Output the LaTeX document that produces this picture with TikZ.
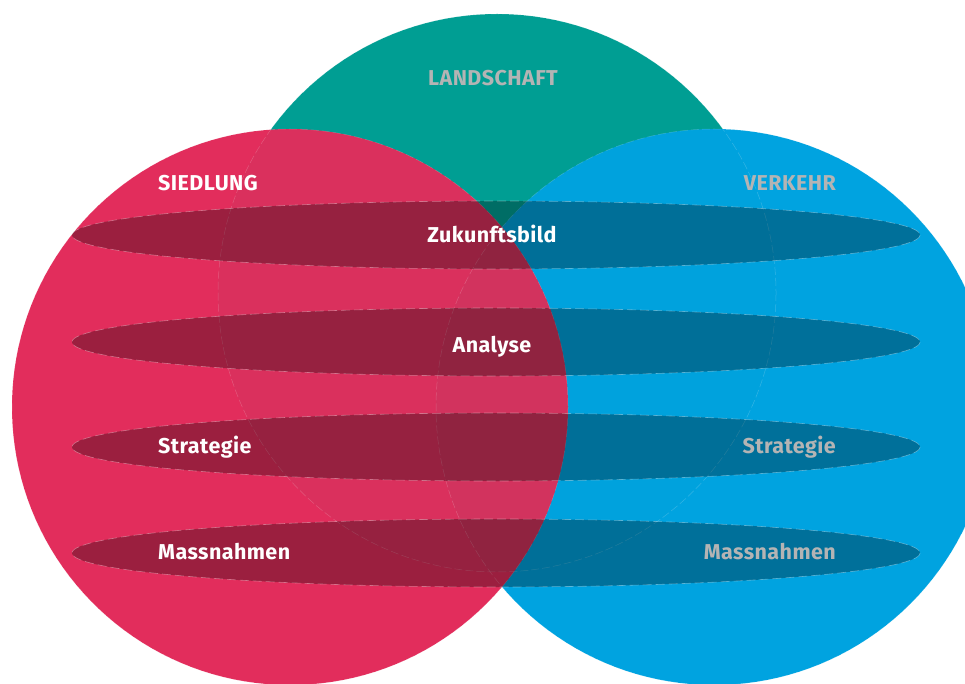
\documentclass[tikz,border=0pt]{standalone}
\usepackage{fontspec}
\setmainfont{Fira Sans}
\newfontfamily\labfont[LetterSpace=2]{Fira Sans}
\definecolor{cred}{HTML}{E22D5C}
\definecolor{cblue}{HTML}{00A3E0}
\definecolor{cgreen}{HTML}{009E93}
\definecolor{cgray}{HTML}{B4B4B4}
\tikzset{
  lab/.style={font=\labfont\fontsize{21.5}{24}\selectfont\bfseries, inner sep=0pt},
  wlab/.style={lab, text=white},
  glab/.style={lab, text=cgray},
  ring/.style={draw=white, draw opacity=0.2, line width=0.5pt, dash pattern=on 8pt off 3pt},
  band/.style={fill=black, fill opacity=0.31, draw=white, draw opacity=0.35, line width=0.6pt, dash pattern=on 9pt off 4pt},
}
\begin{document}
\begin{tikzpicture}[x=1pt,y=-1pt]
\useasboundingbox (0,0) rectangle (965,684);
\clip (0,0) rectangle (965,684);
\fill[white] (0,0) rectangle (965,684);
% circles
\coordinate (cG) at (497,293);
\coordinate (cR) at (290,407);
\coordinate (cB) at (714,407);
\fill[cgreen] (cG) circle [radius=279];
\fill[cblue] (cB) circle [radius=278];
\fill[cred] (cR) circle [radius=278];
% faint tint of the green where it lies under the others
\begin{scope}
  \clip (cG) circle [radius=279];
  \fill[cgreen, fill opacity=0.035] (cB) circle [radius=278];
  \fill[cgreen, fill opacity=0.035] (cR) circle [radius=278];
\end{scope}
\draw[ring] (cG) circle [radius=279];
\draw[ring] (cB) circle [radius=278];
\draw[ring] (cR) circle [radius=278];
% bands
\foreach \n/\yy in {b1/235, b2/342, b3/447, b4/553}{
  \path[band] (496,\yy) ellipse [x radius=424, y radius=34];
}
% labels
\node[glab] (landschaft) at (493,78) {LANDSCHAFT};
\node[wlab, anchor=west] (siedlung) at (158,183) {SIEDLUNG};
\node[glab, anchor=east] (verkehr) at (836,183) {VERKEHR};
\node[wlab] (zukunft) at (492,234) {Zukunftsbild};
\node[wlab] (analyse) at (492,347) {Analyse};
\node[wlab, anchor=west] (stratL) at (158,447) {Strategie};
\node[glab, anchor=east] (stratR) at (836,447) {Strategie};
\node[wlab, anchor=west] (massL) at (158,552) {Massnahmen};
\node[glab, anchor=east] (massR) at (836,552) {Massnahmen};
\end{tikzpicture}
\end{document}
